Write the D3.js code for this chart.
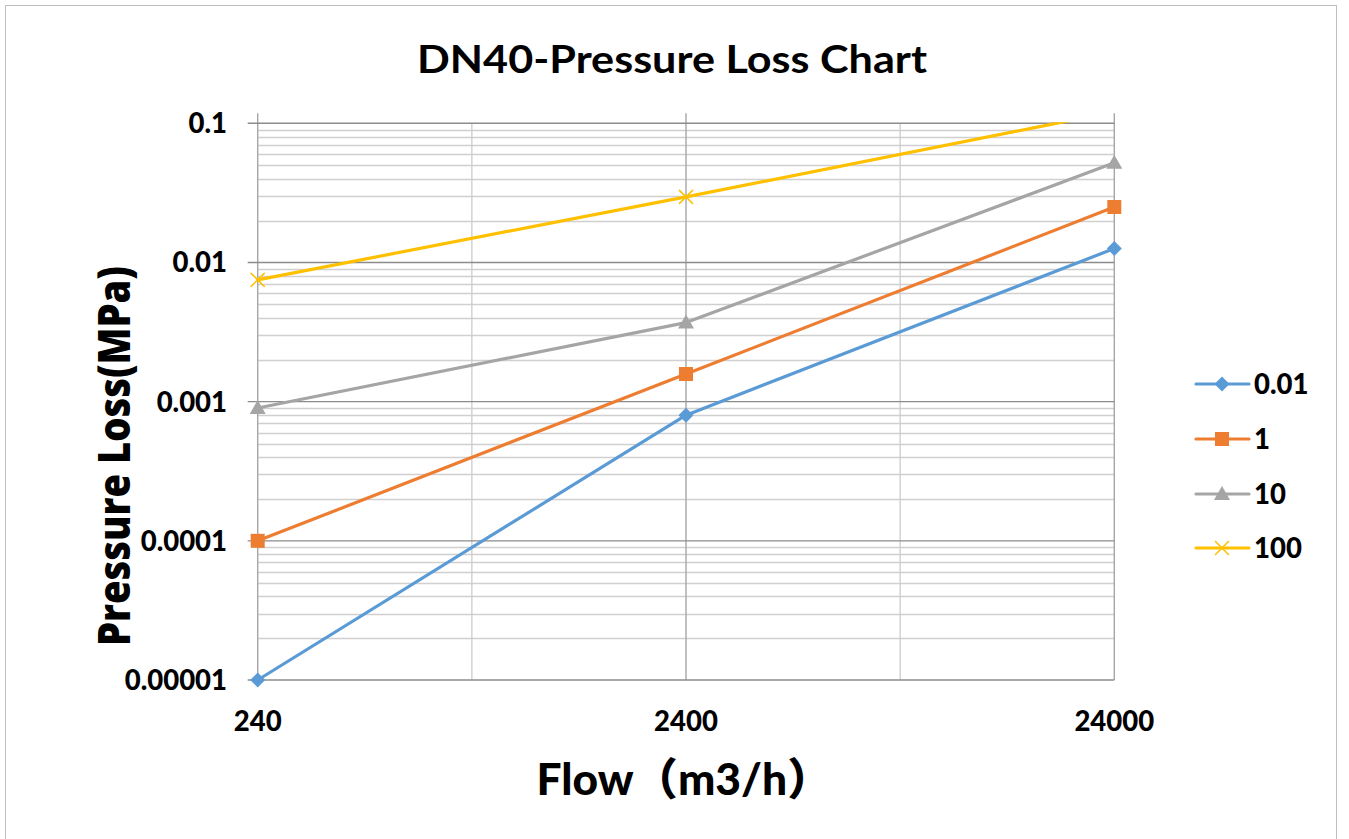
<!DOCTYPE html>
<html>
<head>
<meta charset="utf-8">
<script src="https://cdn.jsdelivr.net/npm/d3@7"></script>
<style>
html,body{margin:0;padding:0;background:#fff;}
svg{display:block;}
</style>
</head>
<body>
<svg id="chart" width="1349" height="839"></svg>
<script>
// ---- data ----
const flows = [240, 2400, 24000];
const seriesNames = ["0.01", "1", "10", "100"];
const s001 = [0.00001, 0.0008, 0.0126];
const s1 = [0.0001, 0.00158, 0.025];
const s10 = [0.0009, 0.0037, 0.052];
const s100 = [0.0075, 0.0296, 0.121];
const seriesValues = [s001, s1, s10, s100];
const seriesColors = ["#5B9BD5", "#ED7D31", "#A5A5A5", "#FFC000"];
const seriesMarkers = ["diamond", "square", "triangle", "x"];
const yTickValues = [0.00001, 0.0001, 0.001, 0.01, 0.1];
const yTickLabels = ["0.00001", "0.0001", "0.001", "0.01", "0.1"];
const xTickLabels = ["240", "2400", "24000"];

const titleText = "DN40-Pressure Loss Chart";
const xTitle = "Flow（m3/h）";
const yTitle = "Pressure Loss(MPa)";

(function () {
// ---- layout ----
const svg = d3.select("#chart");
const pLeft = 257.7, pRight = 1114.3, pTop = 123.3, pBottom = 680;
const x = d3.scaleLog().domain([flows[0], flows[flows.length - 1]]).range([pLeft, pRight]);
const y = d3.scaleLog().domain([yTickValues[0], yTickValues[yTickValues.length - 1]]).range([pBottom, pTop]);

const bodyFont = "Lato, 'Noto Sans CJK SC', sans-serif";

// outer border
svg.append("rect").attr("x", 5.5).attr("y", 5.5).attr("width", 1331).attr("height", 850)
  .attr("fill", "#fff").attr("stroke", "#bfbfbf").attr("stroke-width", 1);

// minor horizontal gridlines
const minorY = [];
for (let i = 0; i < yTickValues.length - 1; i++) {
  for (let k = 2; k <= 9; k++) minorY.push(yTickValues[i] * k);
}
svg.append("g").selectAll("line").data(minorY).join("line")
  .attr("x1", pLeft).attr("x2", pRight)
  .attr("y1", d => Math.round(y(d)) + 0.5).attr("y2", d => Math.round(y(d)) + 0.5)
  .attr("stroke", "#d0d0d0").attr("stroke-width", 1.3);

// minor vertical gridlines (midpoints)
const minorX = [];
for (let i = 0; i < flows.length - 1; i++) minorX.push(Math.sqrt(flows[i] * flows[i + 1]));
svg.append("g").selectAll("line").data(minorX).join("line")
  .attr("x1", d => x(d)).attr("x2", d => x(d))
  .attr("y1", pTop).attr("y2", pBottom)
  .attr("stroke", "#cccccc").attr("stroke-width", 1.3);

// major vertical gridlines (extend above as ticks)
svg.append("g").selectAll("line").data(flows).join("line")
  .attr("x1", d => x(d)).attr("x2", d => x(d))
  .attr("y1", pTop - 10).attr("y2", pBottom)
  .attr("stroke", "#a6a6a6").attr("stroke-width", 1.4);

// major horizontal gridlines (extend left as ticks)
svg.append("g").selectAll("line").data(yTickValues).join("line")
  .attr("x1", pLeft - 10).attr("x2", pRight)
  .attr("y1", d => y(d)).attr("y2", d => y(d))
  .attr("stroke", "#8c8c8c").attr("stroke-width", 1.4);

// y tick labels
svg.append("g").selectAll("text").data(yTickValues).join("text")
  .attr("x", 227).attr("y", d => y(d) + 10)
  .attr("text-anchor", "end")
  .attr("font-family", bodyFont).attr("font-weight", "900").attr("font-size", 27.5)
  .attr("fill", "#000")
  .text((d, i) => yTickLabels[i]);

// x tick labels
svg.append("g").selectAll("text").data(flows).join("text")
  .attr("x", d => x(d)).attr("y", 731)
  .attr("text-anchor", "middle")
  .attr("font-family", bodyFont).attr("font-weight", "900").attr("font-size", 27.5)
  .attr("fill", "#000")
  .text((d, i) => xTickLabels[i]);

// clip for series (top of plot)
svg.append("clipPath").attr("id", "plotclip")
  .append("rect").attr("x", 0).attr("y", pTop - 1).attr("width", 1349).attr("height", 839);

// marker symbol
function markerPath(type) {
  switch (type) {
    case "diamond": return "M0,-7.5L7.5,0L0,7.5L-7.5,0Z";
    case "square": return "M-7,-7H7V7H-7Z";
    case "triangle": return "M0,-8L8,6H-8Z";
    case "x": return "M-7,-7L7,7M-7,7L7,-7";
  }
}

const line = d3.line().x(d => x(d[0])).y(d => y(d[1]));
const gSeries = svg.append("g").attr("clip-path", "url(#plotclip)");
seriesValues.forEach((vals, si) => {
  const pts = flows.map((f, i) => [f, vals[i]]);
  gSeries.append("path").datum(pts)
    .attr("d", line).attr("fill", "none")
    .attr("stroke", seriesColors[si]).attr("stroke-width", 3.2)
    .attr("stroke-linejoin", "round").attr("stroke-linecap", "round");
  gSeries.append("g").selectAll("path").data(pts).join("path")
    .attr("transform", d => `translate(${x(d[0])},${y(d[1])})`)
    .attr("d", markerPath(seriesMarkers[si]))
    .attr("fill", seriesMarkers[si] === "x" ? "none" : seriesColors[si])
    .attr("stroke", seriesColors[si])
    .attr("stroke-width", seriesMarkers[si] === "x" ? 1.5 : 0);
});

// legend
const legendY = [384, 439, 494, 548];
const legend = svg.append("g");
seriesNames.forEach((name, si) => {
  const ly = legendY[si];
  legend.append("line").attr("x1", 1196).attr("x2", 1249).attr("y1", ly).attr("y2", ly)
    .attr("stroke", seriesColors[si]).attr("stroke-width", 3.2).attr("stroke-linecap", "round");
  legend.append("path").attr("transform", `translate(1222,${ly})`)
    .attr("d", markerPath(seriesMarkers[si]))
    .attr("fill", seriesMarkers[si] === "x" ? "none" : seriesColors[si])
    .attr("stroke", seriesColors[si])
    .attr("stroke-width", seriesMarkers[si] === "x" ? 1.5 : 0);
  legend.append("text").attr("x", 1254).attr("y", ly + 10)
    .attr("font-family", bodyFont).attr("font-weight", "900").attr("font-size", 27.5)
    .attr("fill", "#000").text(name);
});

// title
svg.append("text").attr("x", 672).attr("y", 73).attr("text-anchor", "middle")
  .attr("font-family", bodyFont).attr("font-weight", "bold").attr("font-size", 39)
  .attr("textLength", 510).attr("lengthAdjust", "spacingAndGlyphs")
  .attr("fill", "#000").text(titleText);

// x axis title
svg.append("text").attr("x", 684).attr("y", 795).attr("text-anchor", "middle")
  .attr("font-family", bodyFont).attr("font-weight", "900").attr("font-size", 44)
  .attr("textLength", 295).attr("lengthAdjust", "spacingAndGlyphs")
  .attr("fill", "#000").text(xTitle);

// y axis title
svg.append("text").attr("transform", "translate(130,456) rotate(-90)")
  .attr("text-anchor", "middle")
  .attr("font-family", "'Open Sans', sans-serif").attr("font-weight", "800").attr("font-size", 45)
  .attr("textLength", 380).attr("lengthAdjust", "spacingAndGlyphs")
  .attr("fill", "#000").text(yTitle);
})();
</script>
</body>
</html>
